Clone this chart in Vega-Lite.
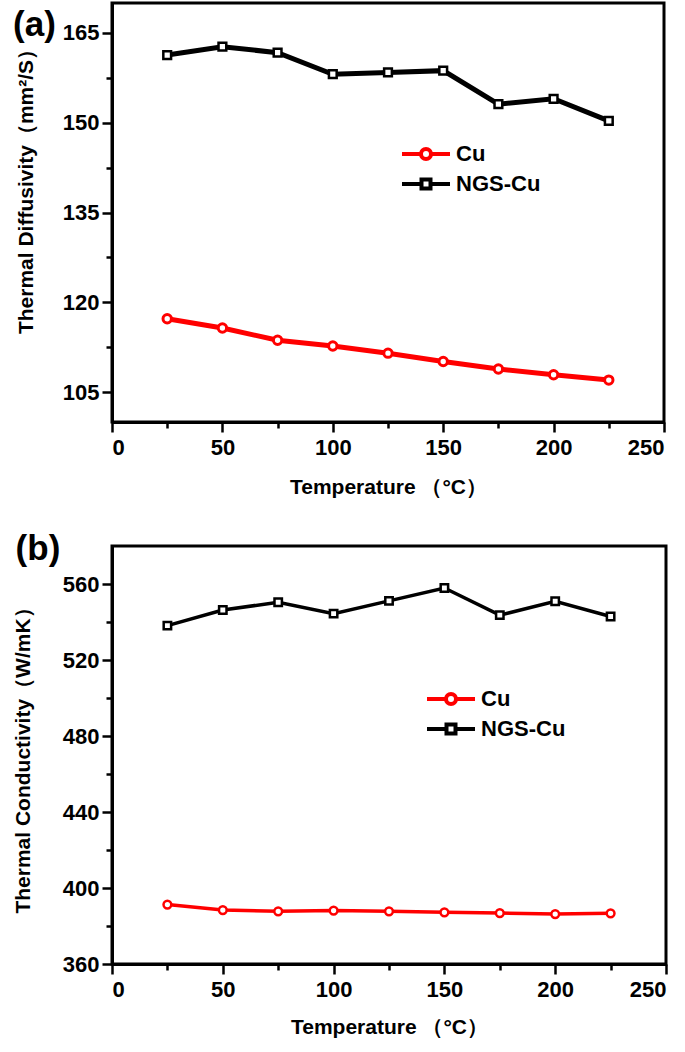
{
  "$schema": "https://vega.github.io/schema/vega-lite/v6.json",
  "background": "white",
  "padding": {"left": 10, "top": 1, "right": 2, "bottom": 5},
  "spacing": 31,
  "resolve": {"scale": {"color": "independent"}, "legend": {"color": "independent"}},
  "config": {
    "font": "Liberation Sans",
    "view": {"stroke": "black", "strokeWidth": 3},
    "axis": {
      "grid": false,
      "domainColor": "black",
      "domainWidth": 3,
      "tickColor": "black",
      "tickWidth": 2.5,
      "labelFont": "Liberation Sans",
      "labelFontWeight": "bold",
      "labelFontSize": 22,
      "labelColor": "black",
      "titleFont": "Liberation Sans",
      "titleFontWeight": "bold",
      "titleFontSize": 21,
      "titleColor": "black"
    }
  },
  "datasets": {
    "diff": [
      {"T": 25, "series": "Cu", "v": 117.25},
      {"T": 50, "series": "Cu", "v": 115.7},
      {"T": 75, "series": "Cu", "v": 113.65},
      {"T": 100, "series": "Cu", "v": 112.7},
      {"T": 125, "series": "Cu", "v": 111.5},
      {"T": 150, "series": "Cu", "v": 110.1},
      {"T": 175, "series": "Cu", "v": 108.85},
      {"T": 200, "series": "Cu", "v": 107.9},
      {"T": 225, "series": "Cu", "v": 107.0},
      {"T": 25, "series": "NGS-Cu", "v": 161.3},
      {"T": 50, "series": "NGS-Cu", "v": 162.7},
      {"T": 75, "series": "NGS-Cu", "v": 161.7},
      {"T": 100, "series": "NGS-Cu", "v": 158.1},
      {"T": 125, "series": "NGS-Cu", "v": 158.4},
      {"T": 150, "series": "NGS-Cu", "v": 158.7},
      {"T": 175, "series": "NGS-Cu", "v": 153.1},
      {"T": 200, "series": "NGS-Cu", "v": 154.0},
      {"T": 225, "series": "NGS-Cu", "v": 150.3}
    ],
    "cond": [
      {"T": 25, "series": "Cu", "v": 391.3},
      {"T": 50, "series": "Cu", "v": 388.4},
      {"T": 75, "series": "Cu", "v": 387.7},
      {"T": 100, "series": "Cu", "v": 388.1},
      {"T": 125, "series": "Cu", "v": 387.7},
      {"T": 150, "series": "Cu", "v": 387.2},
      {"T": 175, "series": "Cu", "v": 386.8},
      {"T": 200, "series": "Cu", "v": 386.3},
      {"T": 225, "series": "Cu", "v": 386.7},
      {"T": 25, "series": "NGS-Cu", "v": 538.1},
      {"T": 50, "series": "NGS-Cu", "v": 546.3},
      {"T": 75, "series": "NGS-Cu", "v": 550.4},
      {"T": 100, "series": "NGS-Cu", "v": 544.4},
      {"T": 125, "series": "NGS-Cu", "v": 551.1},
      {"T": 150, "series": "NGS-Cu", "v": 557.9},
      {"T": 175, "series": "NGS-Cu", "v": 543.6},
      {"T": 200, "series": "NGS-Cu", "v": 550.9},
      {"T": 225, "series": "NGS-Cu", "v": 542.9}
    ],
    "labA": [{"t": "(a)"}],
    "labB": [{"t": "(b)"}]
  },
  "vconcat": [
    {
      "width": 552,
      "height": 419,
      "layer": [
        {
          "data": {"name": "diff"},
          "mark": {"type": "line", "strokeWidth": 5},
          "encoding": {
            "x": {
              "field": "T", "type": "quantitative",
              "scale": {"domain": [0, 250], "nice": false, "zero": false},
              "axis": {
                "values": [0, 25, 50, 75, 100, 125, 150, 175, 200, 225, 250],
                "labelExpr": "datum.value % 50 == 0 ? datum.label : ''",
                "tickSize": {"condition": {"test": "datum.value % 50 != 0", "value": 6}, "value": 10},
                "labelPadding": 5,
                "title": "Temperature （°C）",
                "titlePadding": 18
              }
            },
            "y": {
              "field": "v", "type": "quantitative",
              "scale": {"domain": [100, 170], "nice": false, "zero": false},
              "axis": {
                "values": [105, 112.5, 120, 127.5, 135, 142.5, 150, 157.5, 165],
                "labelExpr": "datum.value % 15 == 0 ? datum.label : ''",
                "tickSize": {"condition": {"test": "datum.value % 15 != 0", "value": 6}, "value": 10},
                "labelPadding": 3,
                "title": "Thermal   Diffusivity（mm²/S）",
                "titlePadding": 26,
                "titleY": 183
              }
            },
            "color": {
              "field": "series", "type": "nominal",
              "scale": {"domain": ["Cu", "NGS-Cu"], "range": ["#ff0000", "#000000"]},
              "legend": {
                "orient": "none", "legendX": 302, "legendY": 139,
                "title": null, "padding": 0,
                "labelFont": "Liberation Sans", "labelFontSize": 22, "labelFontWeight": "bold", "labelColor": "black",
                "symbolSize": 400, "symbolStrokeWidth": 4, "labelOffset": 18, "rowPadding": 4,
                "encode": {
                  "symbols": {
                    "update": {
                      "shape": {"signal": "datum.value === 'Cu' ? 'M-2.4,0H-0.5M0.5,0H2.4M-0.5,0A0.5,0.5,0,1,1,0.5,0A0.5,0.5,0,1,1,-0.5,0Z' : 'M-2.4,0H-0.45M0.45,0H2.4M-0.45,-0.45H0.45V0.45H-0.45Z'"},
                      "fill": {"value": "white"},
                      "strokeWidth": {"value": 4}
                    }
                  }
                }
              }
            }
          }
        },
        {
          "data": {"name": "diff"},
          "transform": [{"filter": "datum.series === 'Cu'"}],
          "mark": {"type": "point", "shape": "circle", "filled": false, "fill": "white", "stroke": "#ff0000", "strokeWidth": 3, "size": 70, "opacity": 1},
          "encoding": {
            "x": {"field": "T", "type": "quantitative"},
            "y": {"field": "v", "type": "quantitative"}
          }
        },
        {
          "data": {"name": "diff"},
          "transform": [{"filter": "datum.series === 'NGS-Cu'"}],
          "mark": {"type": "point", "shape": "square", "filled": false, "fill": "white", "stroke": "#000000", "strokeWidth": 2.5, "size": 60, "opacity": 1},
          "encoding": {
            "x": {"field": "T", "type": "quantitative"},
            "y": {"field": "v", "type": "quantitative"}
          }
        },
        {
          "data": {"name": "labA"},
          "mark": {"type": "text", "fontSize": 35, "fontWeight": "bold", "align": "left", "baseline": "middle", "color": "black"},
          "encoding": {"text": {"field": "t", "type": "nominal"}, "x": {"datum": -44.8}, "y": {"datum": 166.4}}
        }
      ]
    },
    {
      "width": 554,
      "height": 418,
      "layer": [
        {
          "data": {"name": "cond"},
          "mark": {"type": "line", "strokeWidth": 3.5},
          "encoding": {
            "x": {
              "field": "T", "type": "quantitative",
              "scale": {"domain": [0, 250], "nice": false, "zero": false},
              "axis": {
                "values": [0, 25, 50, 75, 100, 125, 150, 175, 200, 225, 250],
                "labelExpr": "datum.value % 50 == 0 ? datum.label : ''",
                "tickSize": {"condition": {"test": "datum.value % 50 != 0", "value": 6}, "value": 10},
                "labelPadding": 5,
                "title": "Temperature （°C）",
                "titlePadding": 16
              }
            },
            "y": {
              "field": "v", "type": "quantitative",
              "scale": {"domain": [360, 580], "nice": false, "zero": false},
              "axis": {
                "values": [360, 380, 400, 420, 440, 460, 480, 500, 520, 540, 560],
                "labelExpr": "datum.value % 40 == 0 ? datum.label : ''",
                "tickSize": {"condition": {"test": "datum.value % 40 != 0", "value": 6}, "value": 10},
                "labelPadding": 3,
                "title": "Thermal   Conductivity（W/mK）",
                "titlePadding": 29
              }
            },
            "color": {
              "field": "series", "type": "nominal",
              "scale": {"domain": ["Cu", "NGS-Cu"], "range": ["#ff0000", "#000000"]},
              "legend": {
                "orient": "none", "legendX": 327, "legendY": 141,
                "title": null, "padding": 0,
                "labelFont": "Liberation Sans", "labelFontSize": 22, "labelFontWeight": "bold", "labelColor": "black",
                "symbolSize": 400, "symbolStrokeWidth": 4, "labelOffset": 18, "rowPadding": 4,
                "encode": {
                  "symbols": {
                    "update": {
                      "shape": {"signal": "datum.value === 'Cu' ? 'M-2.4,0H-0.5M0.5,0H2.4M-0.5,0A0.5,0.5,0,1,1,0.5,0A0.5,0.5,0,1,1,-0.5,0Z' : 'M-2.4,0H-0.45M0.45,0H2.4M-0.45,-0.45H0.45V0.45H-0.45Z'"},
                      "fill": {"value": "white"},
                      "strokeWidth": {"value": 4}
                    }
                  }
                }
              }
            }
          }
        },
        {
          "data": {"name": "cond"},
          "transform": [{"filter": "datum.series === 'Cu'"}],
          "mark": {"type": "point", "shape": "circle", "filled": false, "fill": "white", "stroke": "#ff0000", "strokeWidth": 2.5, "size": 60, "opacity": 1},
          "encoding": {
            "x": {"field": "T", "type": "quantitative"},
            "y": {"field": "v", "type": "quantitative"}
          }
        },
        {
          "data": {"name": "cond"},
          "transform": [{"filter": "datum.series === 'NGS-Cu'"}],
          "mark": {"type": "point", "shape": "square", "filled": false, "fill": "white", "stroke": "#000000", "strokeWidth": 2.5, "size": 55, "opacity": 1},
          "encoding": {
            "x": {"field": "T", "type": "quantitative"},
            "y": {"field": "v", "type": "quantitative"}
          }
        },
        {
          "data": {"name": "labB"},
          "mark": {"type": "text", "fontSize": 35, "fontWeight": "bold", "align": "left", "baseline": "middle", "color": "black"},
          "encoding": {"text": {"field": "t", "type": "nominal"}, "x": {"datum": -43.5}, "y": {"datum": 578.4}}
        }
      ]
    }
  ]
}
